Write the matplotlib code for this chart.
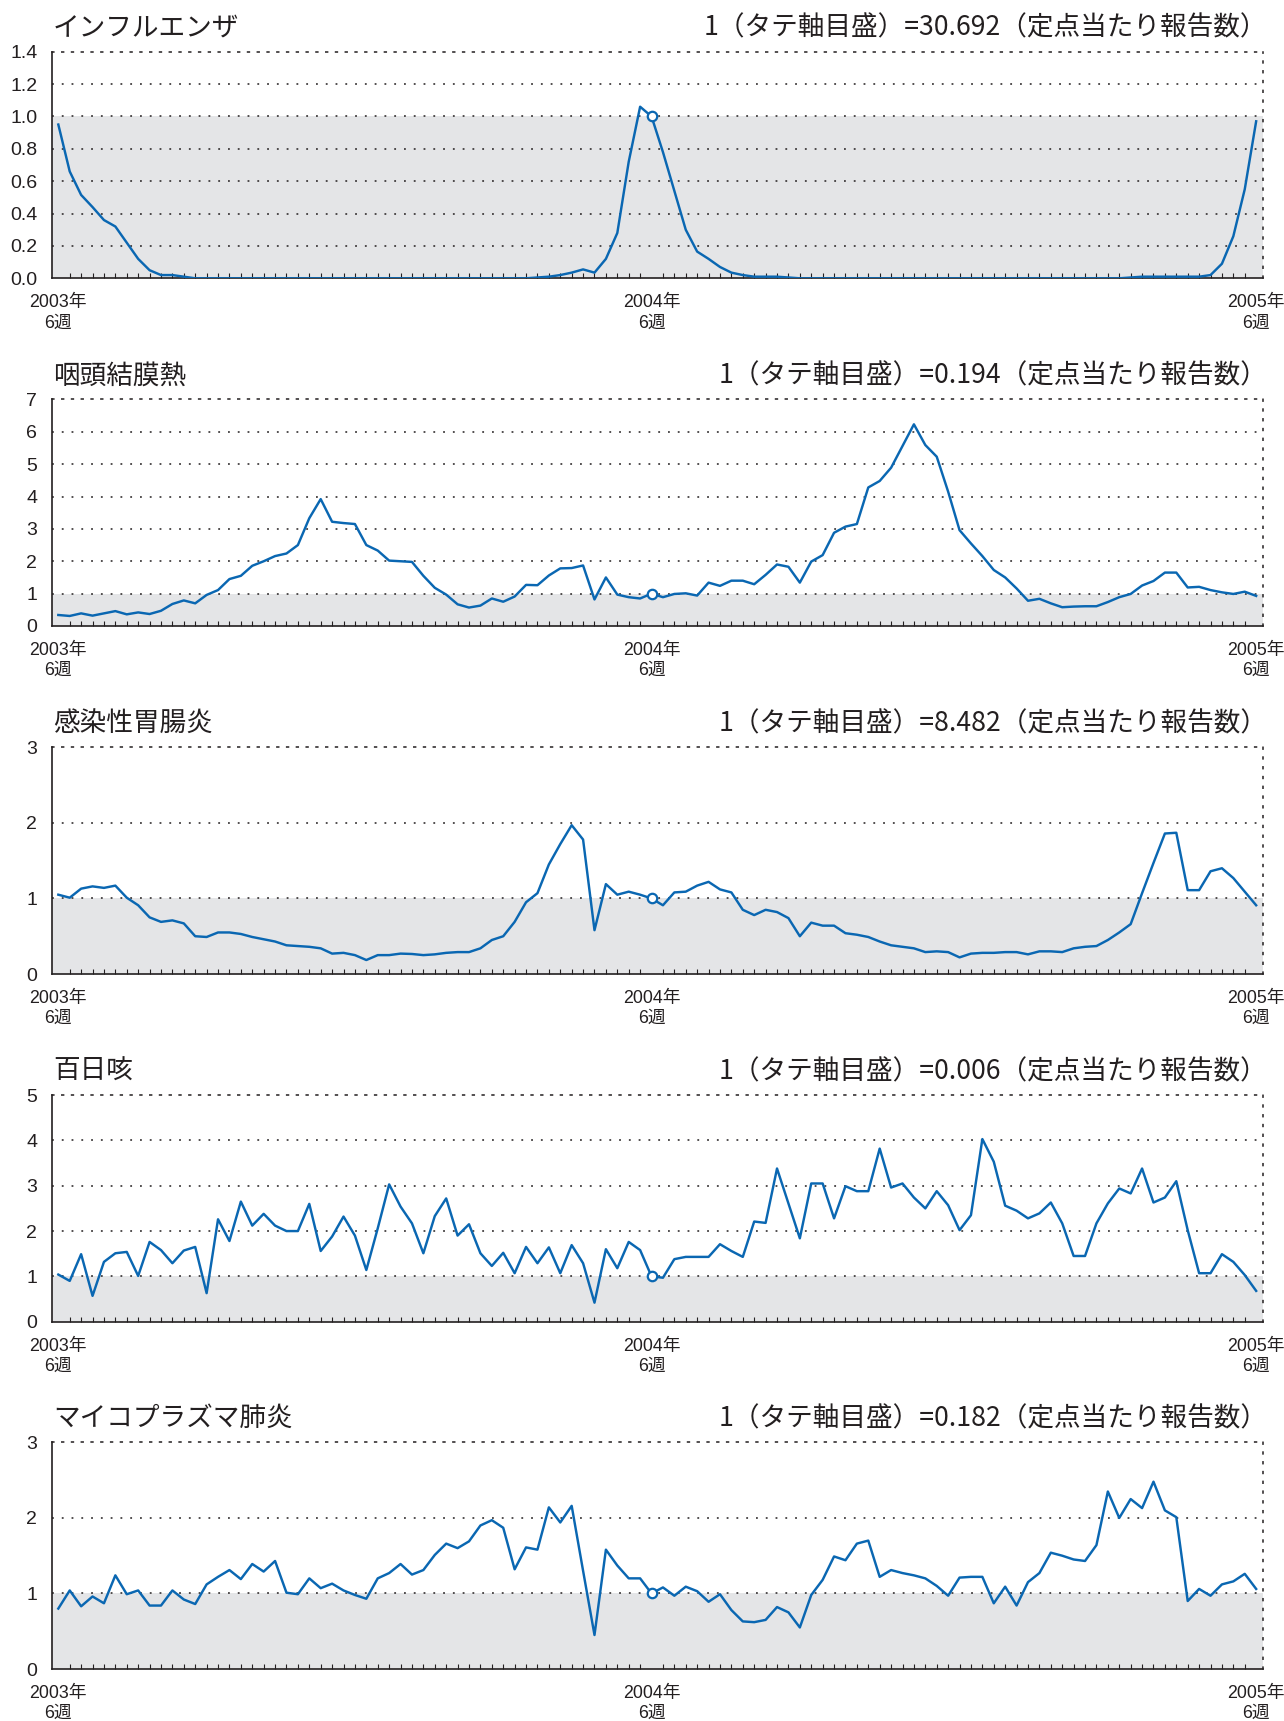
import numpy as np
import matplotlib
matplotlib.use('Agg')
import matplotlib.pyplot as plt

plt.rcParams['font.family'] = ['Noto Sans CJK JP', 'DejaVu Sans']

# weekly reports, 2003 week 6 .. 2005 week 6 (2004 has 53 weeks)
weeks = np.arange(106)
ref_week = 52                      # 2004 week 6 = 1 on each vertical scale
year_ticks = [0, 52, 105]
year_labels = ['2003年\n6週', '2004年\n6週', '2005年\n6週']

titles = ['インフルエンザ', '咽頭結膜熱', '感染性胃腸炎', '百日咳', 'マイコプラズマ肺炎']
units = ['30.692', '0.194', '8.482', '0.006', '0.182']
y_max = [1.4, 7, 3, 5, 3]
y_step = [0.2, 1, 1, 1, 1]

influenza = [
    0.95, 0.66, 0.515, 0.44, 0.36, 0.32, 0.22, 0.12, 0.05, 0.02,
    0.02, 0.01, 0.0, 0.0, 0.0, 0.0, 0.0, 0.0, 0.0, 0.0,
    0.0, 0.0, 0.0, 0.0, 0.0, 0.0, 0.0, 0.0, 0.0, 0.0,
    0.0, 0.0, 0.0, 0.0, 0.0, 0.0, 0.0, 0.0, 0.0, 0.0,
    0.0, 0.0, 0.005, 0.01, 0.02, 0.035, 0.055, 0.035, 0.12, 0.28,
    0.72, 1.06, 1.0, 0.78, 0.54, 0.30, 0.165, 0.12, 0.07, 0.035,
    0.02, 0.01, 0.01, 0.01, 0.005, 0.0, 0.0, 0.0, 0.0, 0.0,
    0.0, 0.0, 0.0, 0.0, 0.0, 0.0, 0.0, 0.0, 0.0, 0.0,
    0.0, 0.0, 0.0, 0.0, 0.0, 0.0, 0.0, 0.0, 0.0, 0.0,
    0.0, 0.0, 0.0, 0.0, 0.005, 0.01, 0.01, 0.01, 0.01, 0.01,
    0.01, 0.02, 0.09, 0.26, 0.55, 0.97,
]

pharyngo = [
    0.34, 0.31, 0.39, 0.32, 0.39, 0.46, 0.36, 0.42, 0.37, 0.47,
    0.68, 0.79, 0.70, 0.96, 1.11, 1.45, 1.55, 1.86, 2.00, 2.16,
    2.24, 2.50, 3.33, 3.92, 3.22, 3.18, 3.15, 2.50, 2.33, 2.02,
    2.00, 1.98, 1.55, 1.18, 0.97, 0.67, 0.57, 0.63, 0.85, 0.75,
    0.91, 1.27, 1.26, 1.56, 1.78, 1.79, 1.87, 0.82, 1.50, 0.97,
    0.89, 0.85, 1.00, 0.89, 0.99, 1.01, 0.94, 1.34, 1.24, 1.40,
    1.40, 1.29, 1.58, 1.90, 1.83, 1.34, 1.99, 2.19, 2.88, 3.07,
    3.15, 4.28, 4.48, 4.89, 5.56, 6.23, 5.59, 5.23, 4.15, 2.96,
    2.55, 2.16, 1.73, 1.50, 1.16, 0.78, 0.84, 0.70, 0.58, 0.60,
    0.61, 0.61, 0.74, 0.89, 0.99, 1.25, 1.39, 1.65, 1.65, 1.19,
    1.21, 1.11, 1.04, 0.99, 1.06, 0.93,
]

gastro = [
    1.05, 1.01, 1.13, 1.16, 1.14, 1.17, 1.01, 0.91, 0.75, 0.69,
    0.71, 0.67, 0.50, 0.49, 0.55, 0.55, 0.53, 0.49, 0.46, 0.43,
    0.38, 0.37, 0.36, 0.34, 0.27, 0.28, 0.25, 0.185, 0.25, 0.25,
    0.27, 0.265, 0.25, 0.26, 0.28, 0.29, 0.29, 0.34, 0.45, 0.50,
    0.69, 0.95, 1.07, 1.45, 1.72, 1.97, 1.78, 0.58, 1.19, 1.05,
    1.09, 1.05, 1.00, 0.91, 1.08, 1.09, 1.17, 1.22, 1.12, 1.08,
    0.85, 0.78, 0.85, 0.82, 0.74, 0.50, 0.68, 0.64, 0.64, 0.54,
    0.52, 0.49, 0.43, 0.38, 0.36, 0.34, 0.29, 0.30, 0.29, 0.22,
    0.27, 0.28, 0.28, 0.29, 0.29, 0.26, 0.30, 0.30, 0.29, 0.34,
    0.36, 0.37, 0.45, 0.55, 0.66, 1.07, 1.47, 1.86, 1.87, 1.11,
    1.11, 1.36, 1.40, 1.27, 1.09, 0.91,
]

pertussis = [
    1.04, 0.90, 1.49, 0.57, 1.32, 1.51, 1.54, 1.01, 1.76, 1.58,
    1.29, 1.57, 1.65, 0.63, 2.26, 1.78, 2.65, 2.12, 2.38, 2.12,
    2.00, 2.00, 2.60, 1.56, 1.88, 2.32, 1.90, 1.14, 2.06, 3.03,
    2.54, 2.17, 1.51, 2.33, 2.72, 1.90, 2.15, 1.51, 1.23, 1.52,
    1.07, 1.65, 1.29, 1.64, 1.07, 1.69, 1.29, 0.42, 1.60, 1.18,
    1.76, 1.58, 1.00, 0.97, 1.38, 1.43, 1.43, 1.43, 1.71, 1.56,
    1.43, 2.21, 2.18, 3.38, 2.61, 1.84, 3.05, 3.05, 2.28, 2.99,
    2.88, 2.88, 3.82, 2.96, 3.05, 2.74, 2.50, 2.88, 2.57, 2.02,
    2.35, 4.03, 3.53, 2.56, 2.45, 2.28, 2.39, 2.63, 2.17, 1.45,
    1.45, 2.17, 2.61, 2.94, 2.83, 3.38, 2.63, 2.74, 3.10, 2.02,
    1.07, 1.07, 1.49, 1.32, 1.03, 0.68,
]

mycoplasma = [
    0.80, 1.04, 0.83, 0.96, 0.87, 1.24, 0.99, 1.04, 0.84, 0.84,
    1.04, 0.92, 0.86, 1.12, 1.22, 1.31, 1.19, 1.39, 1.29, 1.43,
    1.01, 0.99, 1.20, 1.07, 1.13, 1.04, 0.98, 0.93, 1.20, 1.27,
    1.39, 1.25, 1.31, 1.51, 1.66, 1.60, 1.69, 1.90, 1.97, 1.87,
    1.32, 1.61, 1.58, 2.14, 1.94, 2.16, 1.30, 0.45, 1.58, 1.37,
    1.20, 1.20, 1.00, 1.08, 0.97, 1.09, 1.03, 0.89, 0.99, 0.78,
    0.63, 0.62, 0.65, 0.82, 0.75, 0.55, 0.98, 1.18, 1.49, 1.44,
    1.66, 1.70, 1.22, 1.31, 1.27, 1.24, 1.20, 1.10, 0.97, 1.21,
    1.22, 1.22, 0.87, 1.09, 0.84, 1.15, 1.27, 1.54, 1.50, 1.45,
    1.43, 1.64, 2.35, 2.00, 2.25, 2.13, 2.48, 2.10, 2.01, 0.90,
    1.06, 0.97, 1.12, 1.16, 1.26, 1.06,
]

series = [influenza, pharyngo, gastro, pertussis, mycoplasma]

INK = '#231f20'
BLUE = '#0a67b2'
GRAY = '#e4e5e7'
DOTS = (0, (1.2, 5.2))

W, H = 1284, 1721
fig = plt.figure(figsize=(W / 100, H / 100), dpi=100)

ax_left, ax_right = 51.7, 1263.0
ax_h = 226.6
bottoms = [278.3, 626.0, 974.0, 1321.7, 1669.0]   # pixel rows of the zero lines

for k in range(5):
    rect = [ax_left / W, 1 - bottoms[k] / H, (ax_right - ax_left) / W, ax_h / H]
    ax = fig.add_axes(rect)
    vals = np.array(series[k])
    top = y_max[k]
    yt = np.round(np.arange(0, top + y_step[k] / 2, y_step[k]), 2)

    ax.set_xlim(-0.58, 105.6)
    ax.set_ylim(0, top)

    # shaded band below the reference level
    ax.axhspan(0, 1, color=GRAY, lw=0, zorder=0)
    for y in yt[1:-1]:
        ax.axhline(y, color=INK, lw=1.1, ls=DOTS, zorder=1)

    ax.plot(weeks, vals, color=BLUE, lw=1.75, zorder=3)
    ax.plot(ref_week, vals[ref_week], 'o', ms=6.8, mfc='white', mec=BLUE,
            mew=1.6, zorder=4)

    for side in ['left', 'bottom']:
        ax.spines[side].set_color(INK)
        ax.spines[side].set_linewidth(1.2)
    for side in ['top', 'right']:
        ax.spines[side].set_color(INK)
        ax.spines[side].set_linewidth(1.1)
        ax.spines[side].set_linestyle(DOTS)

    if top < 2:
        ylabels = ['%.1f' % v for v in yt]
    else:
        ylabels = ['%d' % v for v in yt]
    ax.set_yticks(yt)
    ax.set_yticklabels(ylabels, fontfamily='Liberation Sans')
    ax.tick_params(axis='y', length=0, pad=10.4, labelsize=14, labelcolor=INK)

    ax.set_xticks(year_ticks)
    ax.set_xticklabels(year_labels)
    ax.set_xticks(weeks, minor=True)
    ax.tick_params(axis='x', which='major', length=0, pad=11.5, labelsize=12.8,
                   labelcolor=INK)
    ax.tick_params(axis='x', which='minor', direction='in', length=3.3,
                   width=0.8, color=INK)
    for lab in ax.get_xticklabels():
        lab.set_fontfamily(['Liberation Sans', 'Noto Sans CJK JP'])
        lab.set_linespacing(1.25)

    ax.annotate(titles[k], xy=(0, 1), xycoords='axes fraction',
                xytext=(1, 11.6), textcoords='offset points',
                ha='left', va='baseline', fontsize=19.2, color=INK)
    ax.annotate('1（タテ軸目盛）=' + units[k] + '（定点当たり報告数）',
                xy=(1, 1), xycoords='axes fraction',
                xytext=(3, 11.6), textcoords='offset points',
                ha='right', va='baseline', fontsize=19.2, color=INK)

fig.savefig('out.png', dpi=100)
